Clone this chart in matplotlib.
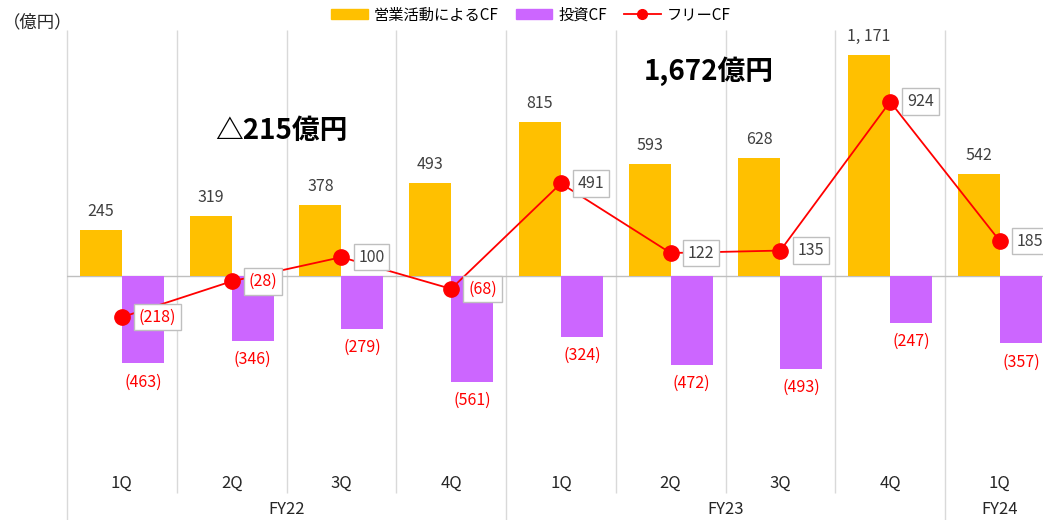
import matplotlib
matplotlib.use("Agg")
import matplotlib.pyplot as plt
from matplotlib.lines import Line2D
from matplotlib.patches import Patch

plt.rcParams['font.family'] = ['Liberation Sans Narrow', 'Noto Sans CJK JP', 'DejaVu Sans']

# data
quarters = ["1Q", "2Q", "3Q", "4Q", "1Q", "2Q", "3Q", "4Q", "1Q"]
fiscal_years = ["FY22", "FY23", "FY24"]
fy_spans = [(0, 3), (4, 7), (8, 8)]
operating_cf = [245, 319, 378, 493, 815, 593, 628, 1171, 542]
investing_cf = [-463, -346, -279, -561, -324, -472, -493, -247, -357]
free_cf = [-218, -28, 100, -68, 491, 122, 135, 924, 185]
totals = [("△215億円", 1.45, 770), ("1,672億円", 5.35, 1085)]

YELLOW = "#FFC000"
PURPLE = "#CC66FF"
RED = "#FF0000"
GRID = "#D9D9D9"
TXT = "#404040"


def fmt(v):
    s = "{:,}".format(abs(v)).replace(",", ", ")
    return "(" + s + ")" if v < 0 else s


fig = plt.figure(figsize=(10.43, 5.2), dpi=100)
ax = fig.add_axes([67 / 1043, 0, 9 * 109.75 / 1043, 490 / 520])
ymin, ymax = -1293, 1304
ax.set_xlim(-0.5, 8.5)
ax.set_ylim(ymin, ymax)
ax.axis('off')

x = list(range(len(quarters)))
bw = 0.383

# separators
for i in range(len(quarters) + 1):
    b = i - 0.5
    group_edge = b in (-0.5, 3.5, 7.5)
    ax.vlines(b, ymin if group_edge else -1150, ymax, color=GRID, lw=1, zorder=0, clip_on=False)
ax.axhline(0, color="#BFBFBF", lw=1, zorder=1)

ax.bar([i - bw / 2 for i in x], operating_cf, width=bw, color=YELLOW, zorder=2)
ax.bar([i + bw / 2 for i in x], investing_cf, width=bw, color=PURPLE, zorder=2)
ax.plot(x, free_cf, color=RED, lw=1.3, marker='o', markersize=11, zorder=4)

for i, v in enumerate(operating_cf):
    ax.annotate(fmt(v), (i - bw / 2, v), xytext=(0, 10), textcoords='offset pixels',
                ha='center', va='bottom', fontsize=11.5, color=TXT)
for i, v in enumerate(investing_cf):
    ax.annotate(fmt(v), (i + bw / 2, v), xytext=(0, -10), textcoords='offset pixels',
                ha='center', va='top', fontsize=11.5, color=RED)
for i, v in enumerate(free_cf):
    ax.annotate(fmt(v), (i, v), xytext=(17, 0), textcoords='offset pixels',
                ha='left', va='center', fontsize=11.5, color=RED if v < 0 else TXT,
                bbox=dict(boxstyle="square,pad=0.3", fc="white", ec="#BFBFBF", lw=1), zorder=5)

for i, q in enumerate(quarters):
    ax.text(i, -1097, q, ha='center', va='center', fontsize=12, color="#262626")
for fy, (a, b) in zip(fiscal_years, fy_spans):
    ax.text((a + b) / 2, -1235, fy, ha='center', va='center', fontsize=12, color="#262626")

for label, tx, ty in totals:
    ax.text(tx, ty, label, ha='center', va='center', fontsize=20, fontweight='bold',
            family=['Noto Sans CJK JP', 'DejaVu Sans'], color="black")

fig.text(3 / 1043, 1 - 22 / 520, "（億円）", ha='left', va='center', fontsize=12.5,
         family=['Noto Sans CJK JP', 'DejaVu Sans'], color="#262626")

handles = [Patch(color=YELLOW), Patch(color=PURPLE),
           Line2D([], [], color=RED, lw=1.3, marker='o', markersize=7)]
labels = ["営業活動によるCF", "投資CF", "フリーCF"]
fig.legend(handles, labels, loc='center', bbox_to_anchor=(531 / 1043, 1 - 15 / 520), ncol=3,
           frameon=False, handlelength=2.4, handleheight=0.6,
           columnspacing=1.1, handletextpad=0.4,
           prop={'family': ['Noto Sans CJK JP', 'DejaVu Sans'], 'size': 11})

fig.savefig("out.png", dpi=100)
